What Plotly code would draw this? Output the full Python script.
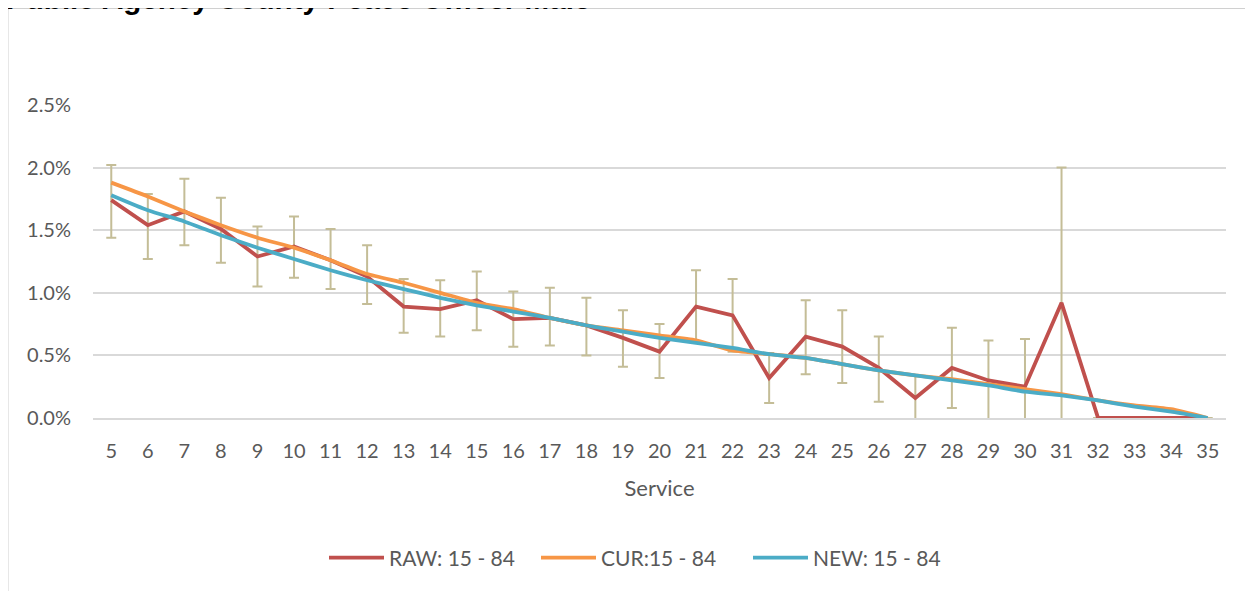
import plotly.graph_objects as go

service = list(range(5, 36))
raw = [1.74, 1.54, 1.65, 1.51, 1.29, 1.37, 1.26, 1.13, 0.89, 0.87, 0.94, 0.79, 0.80, 0.74, 0.64, 0.53,
       0.89, 0.82, 0.32, 0.65, 0.57, 0.40, 0.16, 0.40, 0.30, 0.25, 0.92, 0.0, 0.0, 0.0, 0.0]
raw_upper = [2.02, 1.79, 1.91, 1.76, 1.53, 1.61, 1.51, 1.38, 1.11, 1.10, 1.17, 1.01, 1.04, 0.96, 0.86, 0.75,
             1.18, 1.11, 0.52, 0.94, 0.86, 0.65, 0.34, 0.72, 0.62, 0.63, 2.00, None, None, None, None]
raw_lower = [1.44, 1.27, 1.38, 1.24, 1.05, 1.12, 1.03, 0.91, 0.68, 0.65, 0.70, 0.57, 0.58, 0.50, 0.41, 0.32,
             0.60, 0.53, 0.12, 0.35, 0.28, 0.13, -0.02, 0.08, -0.02, -0.13, -0.16, None, None, None, None]
cur = [1.88, 1.77, 1.65, 1.54, 1.44, 1.36, 1.26, 1.15, 1.08, 1.00, 0.92, 0.87, 0.80, 0.74, 0.70, 0.66,
       0.62, 0.54, 0.51, 0.48, 0.43, 0.38, 0.34, 0.31, 0.27, 0.23, 0.19, 0.14, 0.10, 0.07, 0.0]
new = [1.78, 1.66, 1.57, 1.46, 1.36, 1.27, 1.18, 1.10, 1.03, 0.96, 0.90, 0.85, 0.80, 0.74, 0.69, 0.64,
       0.60, 0.56, 0.51, 0.48, 0.43, 0.38, 0.34, 0.30, 0.26, 0.21, 0.18, 0.14, 0.09, 0.05, 0.0]
y_ticks = [0.0, 0.5, 1.0, 1.5, 2.0, 2.5]

err_plus = [None if u is None else round(u - v, 3) for u, v in zip(raw_upper, raw)]
err_minus = [None if l is None else round(v - l, 3) for l, v in zip(raw_lower, raw)]

OFF = 8  # page offset of the figure inside the browser window
W, H = 1253 - OFF, 591 - OFF
L, R, T, B = 93 - OFF, 27, 105 - OFF, 173
pw, ph = W - L - R, H - T - B


def px_x(page_x):
    return (page_x - OFF - L) / pw


def px_y(page_y):
    return (H - B - (page_y - OFF)) / ph


fig = go.Figure()
fig.add_trace(go.Scatter(
    x=service, y=raw, name="RAW: 15 - 84", mode="lines",
    line=dict(color="#C0504D", width=3.8),
    error_y=dict(type="data", symmetric=False, array=err_plus, arrayminus=err_minus,
                 color="#C4BD97", thickness=2, width=5),
))
fig.add_trace(go.Scatter(
    x=service, y=cur, name="CUR:15 - 84", mode="lines",
    line=dict(color="#F79646", width=3.8, shape="spline", smoothing=0.5),
))
fig.add_trace(go.Scatter(
    x=service, y=new, name="NEW: 15 - 84", mode="lines",
    line=dict(color="#4BACC6", width=3.8, shape="spline", smoothing=0.5),
))

tick_font = dict(family="Lato", size=20, color="#595959")

fig.update_layout(
    width=W, height=H,
    margin=dict(l=L, r=R, t=T, b=B),
    paper_bgcolor="white", plot_bgcolor="white",
    showlegend=True,
    legend=dict(orientation="h", x=px_x(324), xanchor="left", y=px_y(558), yanchor="middle",
                font=dict(family="Lato", size=21, color="#595959"),
                entrywidth=142, entrywidthmode="pixels", itemwidth=55),
    xaxis=dict(range=[4.5, 35.5], tickmode="array", tickvals=service,
               ticktext=[str(s) for s in service], showgrid=False, zeroline=False,
               showline=True, linecolor="#D9D9D9", linewidth=1.5,
               tickfont=tick_font, ticklabelstandoff=14,
               title=dict(text="Service", font=dict(family="Lato", size=22, color="#595959"), standoff=20)),
    yaxis=dict(range=[0, 2.5], tickmode="array", tickvals=y_ticks,
               ticktext=[f"{v:.1f}%" for v in y_ticks],
               showgrid=True, gridcolor="#D9D9D9", gridwidth=1.5, zeroline=False,
               showline=False, tickfont=tick_font, ticklabelstandoff=21),
    shapes=[dict(type="rect", xref="paper", yref="paper",
                 x0=px_x(7.5), x1=px_x(1300), y0=px_y(640), y1=px_y(8),
                 line=dict(color="#D0D0D0", width=2), fillcolor="rgba(0,0,0,0)", layer="below")],
    annotations=[dict(text="<b>Public Agency County Peace Officer Male</b>", xref="paper", yref="paper",
                      x=px_x(4), xanchor="left", y=px_y(17), yanchor="bottom", showarrow=False,
                      font=dict(family="Liberation Sans", size=29.6, color="#000000"))],
)

fig.write_html("out.html")
